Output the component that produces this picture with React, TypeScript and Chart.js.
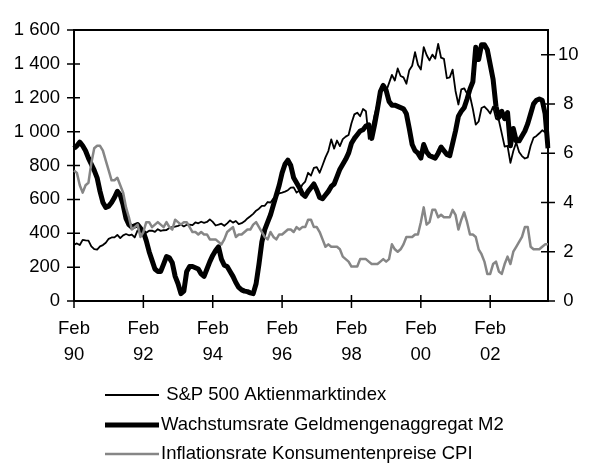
import React, { useEffect, useRef } from 'react';
import { Chart, registerables } from 'chart.js';

Chart.register(...registerables);

// Monthly categories: Feb 1990 ... Oct 2003
const START_YEAR = 1990;
const START_MONTH = 2; // February
const MONTH_COUNT = 165;
const months: string[] = Array.from({ length: MONTH_COUNT }, (_, i) => {
  const mi = START_MONTH - 1 + i;
  const y = START_YEAR + Math.floor(mi / 12);
  const m = (mi % 12) + 1;
  return `${y}-${String(m).padStart(2, '0')}`;
});

const seriesLabels = [
  ' S&P 500 Aktienmarktindex',
  'Wachstumsrate Geldmengenaggregat M2',
  'Inflationsrate Konsumentenpreise CPI',
];

// Left axis: S&P 500 index level
const sp500: number[] = [
  331.9, 339.9, 330.8, 361.2, 358.0, 356.2, 322.6, 306.1, 304.0, 322.2, 330.2,
  343.9, 367.1, 375.2, 375.3, 389.8, 371.2, 387.8, 395.4, 387.9, 392.5, 375.2, 417.1,
  408.8, 412.7, 403.7, 414.9, 415.4, 408.1, 424.2, 414.0, 417.8, 418.7, 431.4, 435.7,
  438.8, 443.4, 451.7, 440.2, 450.2, 450.5, 448.1, 463.6, 458.9, 467.8, 461.8, 466.5,
  481.6, 467.1, 445.8, 450.9, 456.5, 444.3, 458.3, 475.5, 462.7, 472.4, 454.0, 459.3,
  470.4, 487.4, 500.7, 514.7, 533.4, 544.8, 562.1, 561.9, 584.4, 581.5, 605.4, 615.9,
  636.0, 640.4, 645.5, 654.2, 669.1, 670.6, 639.9, 652.0, 687.3, 705.3, 757.0, 740.7,
  786.2, 790.8, 757.1, 801.3, 848.3, 885.1, 954.3, 899.5, 947.3, 914.6, 955.4, 970.4,
  980.3, 1049.3, 1101.8, 1111.8, 1090.8, 1133.8, 1120.7, 957.3, 1017.0, 1098.7, 1163.6, 1229.2,
  1279.6, 1238.3, 1286.4, 1335.2, 1301.8, 1372.7, 1328.7, 1320.4, 1282.7, 1362.9, 1389.0, 1469.3,
  1394.5, 1366.4, 1498.6, 1452.4, 1420.6, 1454.6, 1430.8, 1517.7, 1436.5, 1429.4, 1315.2, 1320.3,
  1366.0, 1239.9, 1160.3, 1249.5, 1255.8, 1224.4, 1211.2, 1133.6, 1040.9, 1059.8, 1139.5, 1148.1,
  1130.2, 1106.7, 1147.4, 1076.9, 1067.1, 989.8, 911.6, 916.1, 815.3, 885.8, 936.3, 879.8,
  855.7, 841.2, 848.2, 916.9, 963.6, 974.5, 990.3, 1008.0, 996.0, 1050.7,
];

// Right axis: M2 growth rate (%)
const m2Growth: number[] = [
  6.2, 6.3, 6.45, 6.3, 6.1, 5.8, 5.55, 5.3, 5.0, 4.45,
  4.0, 3.8, 3.85, 4.0, 4.2, 4.45, 4.3, 3.9, 3.35, 3.1,
  3.0, 3.05, 3.1, 2.95, 2.8, 2.45, 2.0, 1.65, 1.3, 1.2,
  1.2, 1.5, 1.8, 1.75, 1.55, 1.0, 0.7, 0.3, 0.4, 1.2,
  1.4, 1.4, 1.35, 1.3, 1.1, 1.0, 1.3, 1.6, 1.85, 2.05,
  2.2, 1.7, 1.45, 1.4, 1.2, 1.0, 0.75, 0.55, 0.45, 0.4,
  0.38, 0.33, 0.3, 0.7, 1.5, 2.4, 2.9, 3.2, 3.5, 3.9,
  4.3, 4.7, 5.2, 5.55, 5.72, 5.5, 5.0, 4.8, 4.6, 4.35,
  4.25, 4.45, 4.6, 4.75, 4.5, 4.2, 4.15, 4.3, 4.45, 4.65,
  4.75, 5.05, 5.35, 5.55, 5.75, 6.0, 6.4, 6.6, 6.75, 6.9,
  6.95, 7.1, 7.15, 6.6, 7.15, 7.8, 8.5, 8.75, 8.55, 8.1,
  7.95, 7.95, 7.9, 7.85, 7.8, 7.6, 7.0, 6.35, 6.1, 6.0,
  5.8, 6.35, 6.05, 5.9, 5.85, 5.8, 6.0, 6.25, 6.1, 5.95,
  5.9, 6.4, 6.9, 7.5, 7.7, 7.85, 8.2, 8.6, 8.9, 10.3,
  9.8, 10.4, 10.4, 10.2, 9.6, 9.0, 7.9, 7.45, 7.7, 7.4,
  7.65, 6.3, 7.0, 6.5, 6.5, 6.7, 6.9, 7.2, 7.6, 8.0,
  8.15, 8.2, 8.15, 7.6, 6.2,
];

// Right axis: CPI inflation rate (%)
const cpiInflation: number[] = [
  5.3, 5.2, 4.7, 4.4, 4.7, 4.8, 5.6, 6.2, 6.3, 6.3, 6.1,
  5.7, 5.3, 4.9, 4.9, 5.0, 4.7, 4.4, 3.8, 3.4, 2.9, 3.0, 3.1,
  2.6, 2.8, 3.2, 3.2, 3.0, 3.1, 3.2, 3.1, 3.0, 3.2, 3.0, 2.9,
  3.3, 3.2, 3.1, 3.2, 3.2, 3.0, 2.8, 2.8, 2.7, 2.8, 2.7, 2.7,
  2.5, 2.5, 2.5, 2.4, 2.3, 2.5, 2.8, 2.9, 3.0, 2.6, 2.7, 2.7,
  2.8, 2.9, 2.9, 3.1, 3.2, 3.0, 2.8, 2.6, 2.5, 2.8, 2.6, 2.5,
  2.7, 2.7, 2.8, 2.9, 2.9, 2.8, 3.0, 2.9, 3.0, 3.0, 3.3, 3.3,
  3.0, 3.0, 2.8, 2.5, 2.2, 2.3, 2.2, 2.2, 2.2, 2.1, 1.8, 1.7,
  1.6, 1.4, 1.4, 1.4, 1.7, 1.7, 1.7, 1.6, 1.5, 1.5, 1.5, 1.6,
  1.7, 1.6, 1.7, 2.3, 2.1, 2.0, 2.1, 2.3, 2.6, 2.6, 2.6, 2.7,
  2.7, 3.2, 3.8, 3.1, 3.2, 3.7, 3.7, 3.4, 3.5, 3.4, 3.4, 3.4,
  3.7, 3.5, 2.9, 3.3, 3.6, 3.2, 2.7, 2.7, 2.6, 2.1, 1.9, 1.6,
  1.1, 1.1, 1.5, 1.6, 1.2, 1.1, 1.5, 1.8, 1.5, 2.0, 2.2, 2.4,
  2.6, 3.0, 3.0, 2.2, 2.1, 2.1, 2.1, 2.2, 2.3, 2.3,
];

const leftMax = 1600;
const leftStep = 200;
const rightMax = 11;
const rightStep = 2;

const FONT = { family: '"Liberation Sans", Arial, Helvetica, sans-serif', size: 18.5 };

const isMajorTick = (i: number) => {
  const [y, m] = months[i].split('-');
  return m === '02' && Number(y) % 2 === 0;
};
const xTickLabel = (i: number) => {
  const [y] = months[i].split('-');
  return ['Feb', y.slice(2)];
};
const fmtThousands = (v: number) => String(v).replace(/\B(?=(\d{3})+(?!\d))/g, ' ');

const framePlugin = {
  id: 'frameAndLegend',
  afterDraw(chart: any) {
    const ctx = chart.ctx;
    const a = chart.chartArea;
    const ys = chart.scales.y;
    const y2s = chart.scales.y2;
    const xs = chart.scales.x;
    ctx.save();
    ctx.strokeStyle = '#000';
    ctx.lineWidth = 1.5;
    ctx.beginPath();
    ys.ticks.forEach((t: any) => {
      const p = ys.getPixelForValue(t.value);
      ctx.moveTo(a.left - 7, p);
      ctx.lineTo(a.left + 6, p);
    });
    y2s.ticks.forEach((t: any) => {
      const p = y2s.getPixelForValue(t.value);
      ctx.moveTo(a.right - 7, p);
      ctx.lineTo(a.right + 7, p);
    });
    months.forEach((_, i) => {
      if (!isMajorTick(i)) return;
      const p = xs.getPixelForValue(i);
      ctx.moveTo(p, a.bottom - 6);
      ctx.lineTo(p, a.bottom + 7);
    });
    ctx.stroke();
    ctx.lineWidth = 2;
    ctx.beginPath();
    ctx.moveTo(a.left - 1, a.top);
    ctx.lineTo(a.right + 1, a.top);
    ctx.stroke();

    // legend (vertical list)
    const rows = [395, 425, 454];
    ctx.font = `${FONT.size}px ${FONT.family}`;
    ctx.textBaseline = 'middle';
    ctx.textAlign = 'left';
    ctx.fillStyle = '#000';
    chart.data.datasets.forEach((ds: any, i: number) => {
      const yy = rows[i];
      ctx.strokeStyle = ds.borderColor;
      ctx.lineWidth = ds.borderWidth;
      ctx.lineCap = 'butt';
      ctx.beginPath();
      ctx.moveTo(105, yy);
      ctx.lineTo(159, yy);
      ctx.stroke();
      ctx.fillText(ds.label, 161, yy);
    });
    ctx.restore();
  },
};

export default function App() {
  const ref = useRef<HTMLCanvasElement>(null);
  useEffect(() => {
    if (!ref.current) return;
    const chart = new Chart(ref.current, {
      type: 'line',
      data: {
        labels: months,
        datasets: [
          {
            label: seriesLabels[0],
            data: sp500,
            yAxisID: 'y',
            borderColor: '#000000',
            borderWidth: 1.8,
            pointRadius: 0,
            tension: 0,
            order: 3,
            borderJoinStyle: 'round',
          },
          {
            label: seriesLabels[1],
            data: m2Growth,
            yAxisID: 'y2',
            borderColor: '#000000',
            borderWidth: 5,
            pointRadius: 0,
            tension: 0,
            order: 2,
            borderJoinStyle: 'round',
          },
          {
            label: seriesLabels[2],
            data: cpiInflation,
            yAxisID: 'y2',
            borderColor: '#868686',
            borderWidth: 2.5,
            pointRadius: 0,
            tension: 0,
            order: 1,
            borderJoinStyle: 'round',
          },
        ],
      },
      options: {
        responsive: false,
        animation: false,
        events: [],
        layout: { padding: { top: 30, left: 0, right: 0, bottom: 0 } },
        plugins: { legend: { display: false }, tooltip: { enabled: false } },
        scales: {
          x: {
            type: 'category',
            offset: false,
            grid: { display: false, drawTicks: false },
            border: { display: true, color: '#000', width: 2 },
            ticks: {
              autoSkip: false,
              maxRotation: 0,
              padding: 15,
              color: '#000',
              font: { ...FONT, lineHeight: 1.4 },
              callback: (_v: any, i: number) => (isMajorTick(i) ? xTickLabel(i) : null),
            },
            afterFit: (s: any) => { s.height = 165; },
          },
          y: {
            position: 'left',
            min: 0,
            max: leftMax,
            grid: { display: false, drawTicks: false },
            border: { display: true, color: '#000', width: 2 },
            ticks: {
              stepSize: leftStep,
              includeBounds: false,
              padding: 14,
              color: '#000',
              font: FONT,
              callback: (v: any) => fmtThousands(Number(v)),
            },
            afterFit: (s: any) => { s.width = 74; },
          },
          y2: {
            position: 'right',
            min: 0,
            max: rightMax,
            grid: { display: false, drawTicks: false },
            border: { display: true, color: '#000', width: 2 },
            ticks: {
              stepSize: rightStep,
              includeBounds: false,
              padding: 10,
              crossAlign: 'center',
              color: '#000',
              font: FONT,
            },
            afterFit: (s: any) => { s.width = 42; },
          },
        },
      },
      plugins: [framePlugin],
    });
    return () => chart.destroy();
  }, []);
  return (
    <div style={{ position: 'absolute', left: 0, top: 0, width: 590, height: 466, background: '#fff' }}>
      <canvas ref={ref} width={590} height={466} />
    </div>
  );
}
